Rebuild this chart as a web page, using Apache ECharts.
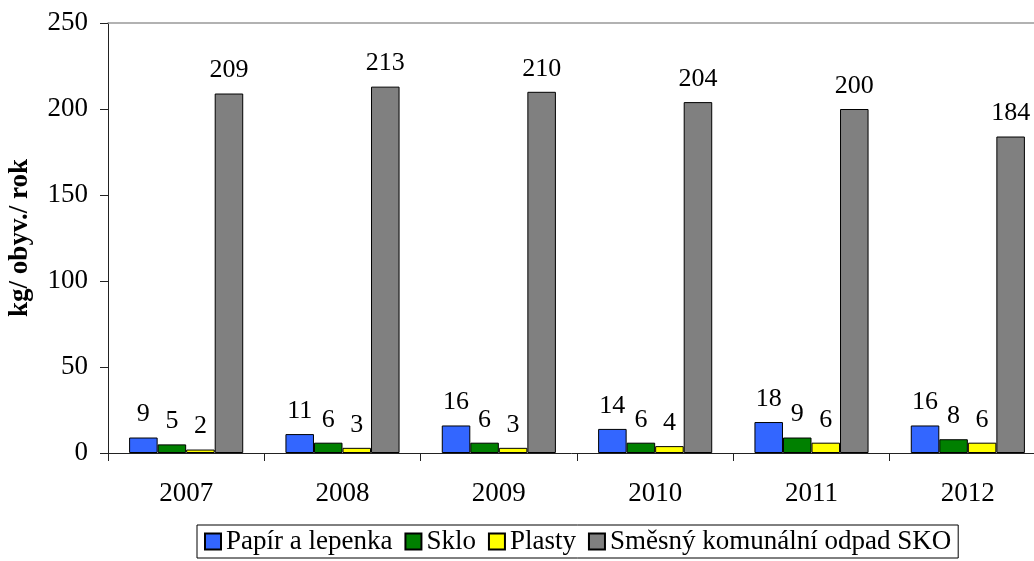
<!DOCTYPE html>
<html>
<head>
<meta charset="utf-8">
<script src="https://cdn.jsdelivr.net/npm/echarts@6/dist/echarts.min.js"></script>
<style>
  html, body { margin: 0; padding: 0; background: #fff; }
  #chart { width: 1034px; height: 561px; }
</style>
</head>
<body>
<div id="chart"></div>
<script>
// Roky a množství odpadu na obyvatele
const years = ['2007', '2008', '2009', '2010', '2011', '2012'];
const papir = [9, 11, 16, 14, 18, 16];
const sklo = [5, 6, 6, 6, 9, 8];
const plasty = [2, 3, 3, 4, 6, 6];
const sko = [209, 213, 210, 204, 200, 184];
const seriesNames = ['Papír a lepenka', 'Sklo', 'Plasty', 'Směsný komunální odpad SKO'];
const seriesColors = ['#3366FF', '#008000', '#FFFF00', '#808080'];

const serif = '"Liberation Serif", "Times New Roman", serif';

const chart = echarts.init(document.getElementById('chart'), null, { renderer: 'canvas' });

const makeBar = (name, data, color) => ({
  name: name,
  type: 'bar',
  data: data,
  barGap: '0%',
  barCategoryGap: '27%',
  itemStyle: { color: color, borderColor: '#000', borderWidth: 1 },
  label: {
    show: true,
    position: 'top',
    distance: 10,
    color: '#000',
    fontFamily: serif,
    fontSize: 26
  }
});

chart.setOption({
  animation: false,
  backgroundColor: '#fff',
  grid: { left: 108, top: 23, right: -12, bottom: 108, outerBoundsMode: 'none' },
  legend: {
    left: 197,
    top: 525,
    orient: 'horizontal',
    icon: 'rect',
    itemWidth: 16,
    itemHeight: 16,
    itemGap: 12,
    padding: [3, 7, 3, 7],
    borderColor: '#000',
    borderWidth: 1,
    textStyle: { fontFamily: serif, fontSize: 27, color: '#000' },
    data: seriesNames
  },
  xAxis: [
    {
      type: 'category',
      data: years,
      axisLine: { lineStyle: { color: '#222', width: 1 } },
      axisTick: { show: true, length: 8, lineStyle: { color: '#222' } },
      axisLabel: { fontFamily: serif, fontSize: 27, color: '#000', margin: 27 }
    },
    {
      type: 'category',
      data: years,
      position: 'top',
      axisLine: { show: true, lineStyle: { color: '#999', width: 1.5 } },
      axisTick: { show: false },
      axisLabel: { show: false }
    }
  ],
  yAxis: {
    type: 'value',
    min: 0,
    max: 250,
    interval: 50,
    name: 'kg/ obyv./ rok',
    nameLocation: 'middle',
    nameGap: 74,
    nameTextStyle: { fontFamily: serif, fontSize: 27, fontWeight: 'bold', color: '#000' },
    axisLine: { show: true, lineStyle: { color: '#222', width: 1 } },
    axisTick: { show: true, length: 8, lineStyle: { color: '#222' } },
    splitLine: { show: false },
    axisLabel: { fontFamily: serif, fontSize: 27, color: '#000', margin: 20 }
  },
  series: [
    makeBar(seriesNames[0], papir, seriesColors[0]),
    makeBar(seriesNames[1], sklo, seriesColors[1]),
    makeBar(seriesNames[2], plasty, seriesColors[2]),
    makeBar(seriesNames[3], sko, seriesColors[3])
  ]
});
</script>
</body>
</html>
